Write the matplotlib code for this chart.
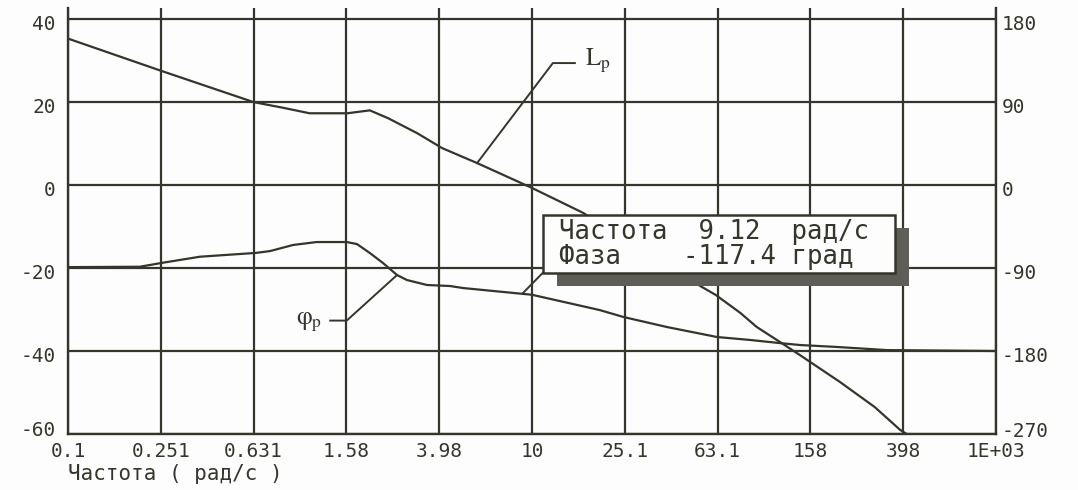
import numpy as np
import matplotlib.pyplot as plt
from matplotlib.patches import Rectangle
from matplotlib.transforms import offset_copy, ScaledTranslation

plt.rcParams['mathtext.fontset'] = 'stix'

INK = '#34362c'
MONO = 'DejaVu Sans Mono'

# ЛАЧХ разомкнутой системы, дБ
freq_L = [0.1, 0.25, 0.63, 0.85, 1.1, 1.6, 2.0, 2.4, 3.2, 4.1, 5.8, 10, 16.6,
          53, 62, 79, 93, 117, 143, 213, 300, 386, 440]
L_db = [35.3, 27.6, 20.0, 18.6, 17.3, 17.3, 18.0, 16.1, 12.5, 8.9, 5.3, -0.7, -6.7,
        -24.3, -26.5, -30.8, -34.2, -37.8, -41.0, -47.5, -53.5, -59.0, -61.0]

# ЛФЧХ, град
freq_phi = [0.1, 0.204, 0.254, 0.371, 0.645, 0.743, 0.933, 1.18, 1.59, 1.76, 2.0,
            2.28, 2.62, 2.89, 3.53, 4.43, 5.05, 10, 19.6, 24.7, 38.2, 62.7, 87,
            117, 143, 206, 339, 1000]
phi_deg = [-89.0, -88.6, -84.4, -77.7, -73.6, -71.6, -65.0, -61.8, -61.8, -64.0, -73.7,
           -84.6, -97.6, -103.0, -108.4, -109.5, -111.7, -119.0, -135.6, -143.0, -154.0,
           -164.8, -168.0, -171.4, -173.5, -175.6, -179.0, -180.0]

x_ticks = [10 ** (-1 + 0.4 * k) for k in range(11)]
x_labels = ['0.1', '0.251', '0.631', '1.58', '3.98', '10', '25.1', '63.1', '158', '398', '1E+03']
L_ticks = [40, 20, 0, -20, -40, -60]
phi_ticks = [180, 90, 0, -90, -180, -270]

# курсор
freq_cur = 9.12
phi_cur = -117.4

fig = plt.figure(figsize=(10.78, 4.90), dpi=100, facecolor='#fdfdfd')
ax = fig.add_axes([68 / 1078, 56 / 490, 928 / 1078, 425.7 / 490])
ax.set_facecolor('#fdfdfd')

y_top = 42.6
ax.set_xscale('log')
ax.set_xlim(0.1, 1000)
ax.set_ylim(-60, y_top)
ax.set_xticks(x_ticks)
ax.set_xticklabels(x_labels)
ax.minorticks_off()
ax.set_yticks(L_ticks)
ax.set_yticklabels([str(v) for v in L_ticks])
ax.grid(True, color=INK, lw=1.6)
ax.tick_params(length=0, labelsize=14, colors=INK)
ax.tick_params(axis='y', pad=9)
ax.tick_params(axis='x', pad=6)
ax.spines['top'].set_visible(False)
for s in ('left', 'right', 'bottom'):
    ax.spines[s].set_color(INK)
    ax.spines[s].set_linewidth(1.7)

ax2 = ax.twinx()
ax2.set_ylim(-60 * 4.5, y_top * 4.5)
ax2.set_yticks(phi_ticks)
ax2.set_yticklabels([str(v) for v in phi_ticks])
ax2.tick_params(length=0, labelsize=14, colors=INK, pad=4)
for s in ax2.spines.values():
    s.set_visible(False)

# подписи шкал чуть ниже линий сетки, нижние - чуть выше
down = ScaledTranslation(0, -3 / 100, fig.dpi_scale_trans)
up = ScaledTranslation(0, 5 / 100, fig.dpi_scale_trans)
for lab in ax.get_xticklabels():
    lab.set_family(MONO)
for labels in (ax.get_yticklabels(), ax2.get_yticklabels()):
    for i, lab in enumerate(labels):
        lab.set_family(MONO)
        lab.set_transform(lab.get_transform() + (up if i == len(labels) - 1 else down))

ax.plot(freq_L, L_db, color=INK, lw=1.6)
ax2.plot(freq_phi, phi_deg, color=INK, lw=1.6)

# выноски
ax.plot([5.8, 12.3, 15.3], [5.3, 29.4, 29.4], color=INK, lw=1.4)
ax.text(17.0, 29.8, r'$\mathrm{L}_\mathrm{p}$', fontsize=18, color=INK, va='center', ha='left')
ax2.plot([1.35, 1.59, 2.62], [-147.0, -147.0, -97.6], color=INK, lw=1.4)
ax2.text(1.25, -148.5, r'$\mathrm{φ}_\mathrm{p}$', fontsize=18, color=INK, va='center', ha='right')

# окно курсора
bx0, bx1 = 11.1, 367.0
by0, by1 = -95.5, -32.6
shadow = Rectangle((bx0, by0), bx1 - bx0, by1 - by0, facecolor='#5e5e57', edgecolor='none',
                   zorder=5,
                   transform=offset_copy(ax2.transData, fig, x=14, y=-13, units='dots'))
ax2.add_patch(shadow)
ax2.add_patch(Rectangle((bx0, by0), bx1 - bx0, by1 - by0, facecolor='#fdfdfd', edgecolor=INK,
                        lw=1.8, zorder=6))
ax2.plot([freq_cur, bx0], [phi_cur, by0], color=INK, lw=1.4, zorder=4)
ax2.annotate(f'Частота  {freq_cur:4.2f}  рад/с', xy=(bx0, by1), xytext=(12, -12.5),
             textcoords='offset points', fontsize=18.5, family=MONO, color=INK,
             va='center', ha='left', zorder=7)
ax2.annotate(f'Фаза    {phi_cur:6.1f} град', xy=(bx0, by1), xytext=(12, -30),
             textcoords='offset points', fontsize=18.5, family=MONO, color=INK,
             va='center', ha='left', zorder=7)

fig.text(68 / 1078, 1 - 474 / 490, 'Частота ( рад/с )', fontsize=15, family=MONO,
         color=INK, va='center', ha='left')

fig.savefig('out.png', dpi=100, facecolor=fig.get_facecolor())
